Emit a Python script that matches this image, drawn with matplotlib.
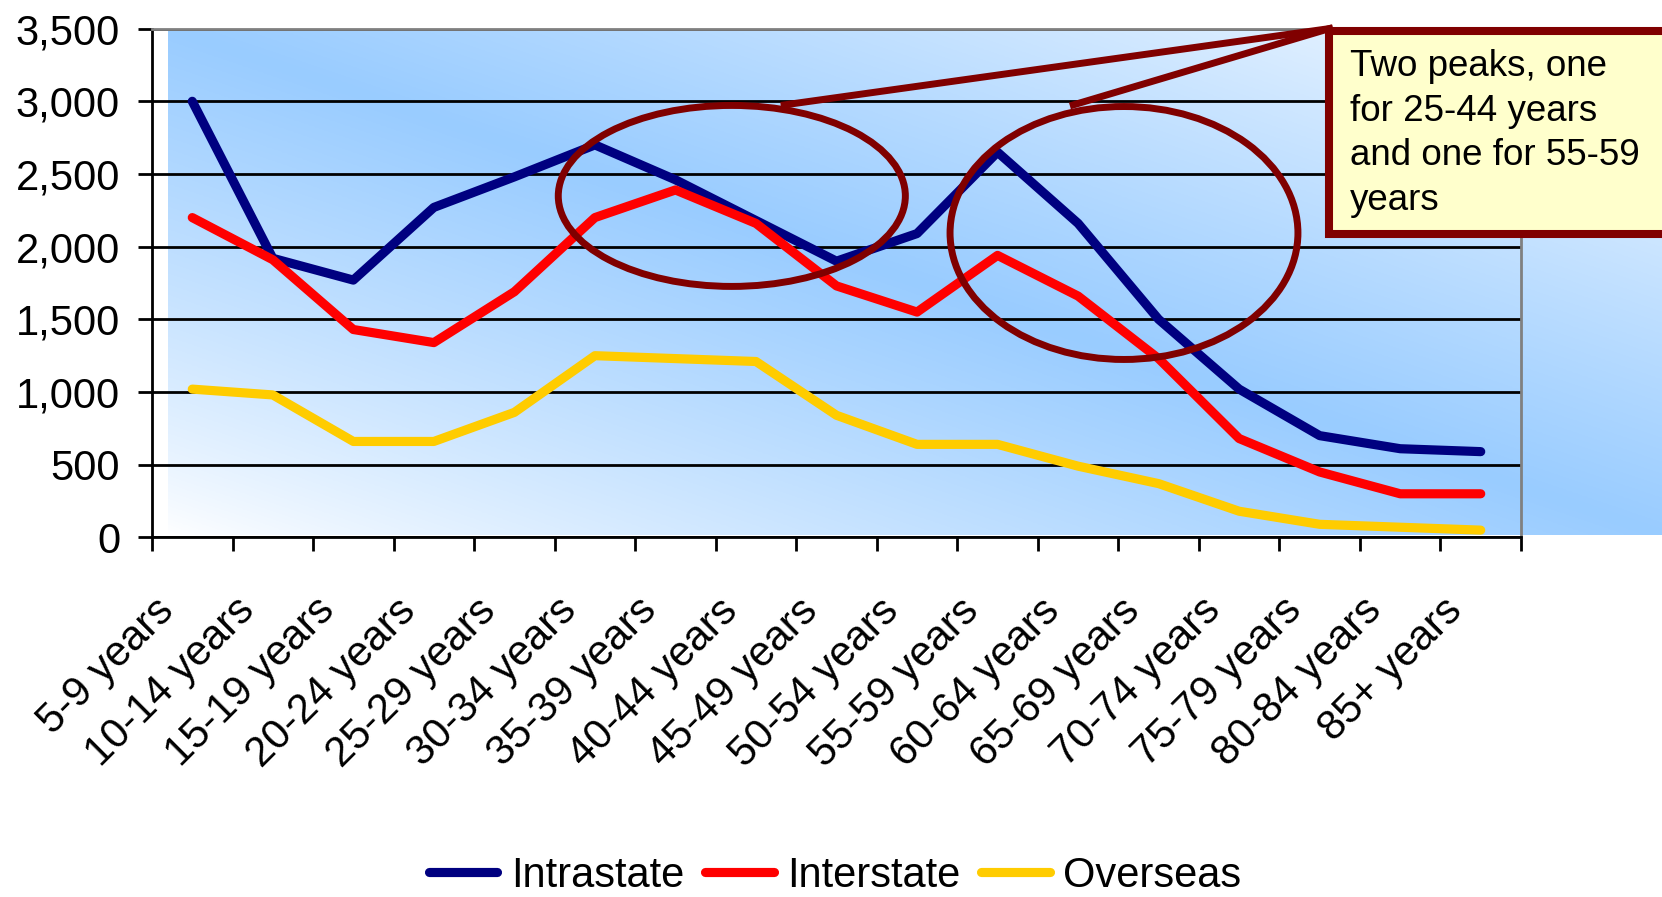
import numpy as np
import matplotlib.pyplot as plt
from matplotlib.patches import Ellipse, Rectangle
from matplotlib.lines import Line2D
from matplotlib.ticker import FuncFormatter

ages = ["5-9 years", "10-14 years", "15-19 years", "20-24 years", "25-29 years",
        "30-34 years", "35-39 years", "40-44 years", "45-49 years", "50-54 years",
        "55-59 years", "60-64 years", "65-69 years", "70-74 years", "75-79 years",
        "80-84 years", "85+ years"]
intrastate = [3000, 1920, 1770, 2270, 2480, 2700, 2460, 2180, 1900, 2090,
              2650, 2160, 1500, 1020, 700, 610, 590]
interstate = [2200, 1910, 1430, 1340, 1690, 2200, 2390, 2160, 1730, 1550,
              1940, 1660, 1230, 680, 450, 300, 300]
overseas = [1020, 980, 660, 660, 860, 1250, 1230, 1210, 840, 640,
            640, 490, 370, 180, 90, 70, 50]

note = "Two peaks, one\nfor 25-44 years\nand one for 55-59\nyears"

plt.rcParams['font.family'] = ['Liberation Sans', 'DejaVu Sans']
FS = 30

W, H = 1662, 897
fig = plt.figure(figsize=(W / 100, H / 100), dpi=100)

# diagonal blue backdrop: pale at bottom-left and top-right, blue through the middle
bg = fig.add_axes([168 / W, 1 - 535 / H, 1 - 168 / W, (535 - 28.6) / H])
gx, gy = np.meshgrid(np.linspace(0, 1, 500), np.linspace(0, 1, 300))
t = (1 - np.abs(gx + gy - 1)) ** 0.8
blue = np.array([153, 204, 255]) / 255
img = (1 - t)[..., None] + t[..., None] * blue
bg.imshow(img, origin='lower', aspect='auto', extent=[0, 1, 0, 1])
bg.axis('off')

ax = fig.add_axes([152 / W, 1 - 537.4 / H, (1521 - 152) / W, (537.4 - 28.6) / H])
ax.patch.set_visible(False)

x = np.arange(len(ages))
lw = 6.6
ax.plot(x, intrastate, color='#000080', lw=lw, solid_capstyle='round', label='Intrastate', zorder=4)
ax.plot(x, interstate, color='#FF0000', lw=lw, solid_capstyle='round', label='Interstate', zorder=4)
ax.plot(x, overseas, color='#FFCC00', lw=lw, solid_capstyle='round', label='Overseas', zorder=4)

ax.set_xlim(-0.5, len(ages) - 0.5)
ax.set_ylim(0, 3500)
ax.set_yticks(np.arange(0, 3501, 500))
ax.yaxis.set_major_formatter(FuncFormatter(lambda v, p: f"{int(v):,}"))
ax.yaxis.grid(True, color='black', lw=2)
ax.tick_params(axis='y', labelsize=FS, length=10, width=2, direction='out', pad=13)

# ticks sit between categories; the slanted names hang below each category
ax.set_xticks(np.arange(-0.5, len(ages)), labels=[])
ax.tick_params(axis='x', length=10, width=2, direction='out')
for i, name in enumerate(ages):
    ax.annotate(name, xy=(x[i], 0), xycoords=('data', 'axes fraction'),
                xytext=(-12, -54), textcoords='offset points', fontsize=FS,
                rotation=45, rotation_mode='anchor', ha='right', va='baseline',
                annotation_clip=False)

for side in ['left', 'bottom']:
    ax.spines[side].set_color('black')
    ax.spines[side].set_linewidth(2)
for side in ['top', 'right']:
    ax.spines[side].set_color('#808080')
    ax.spines[side].set_linewidth(2)

# circles around the two peaks, joined to the note
dark = '#800000'
ax.add_patch(Ellipse((6.70, 2349), 4.31, 1245, fill=False, ec=dark, lw=5, zorder=5, clip_on=False))
ax.add_patch(Ellipse((11.57, 2094), 4.32, 1740, fill=False, ec=dark, lw=5, zorder=5, clip_on=False))
ax.add_line(Line2D([7.35, 14.12], [2975, 3500], color=dark, lw=5, zorder=5, clip_on=False))
ax.add_line(Line2D([10.94, 14.12], [2975, 3500], color=dark, lw=5, zorder=5, clip_on=False))

fig.patches.append(Rectangle((1329 / W, 1 - 234 / H), (1700 - 1329) / W, (234 - 31) / H,
                             transform=fig.transFigure, fc='#FFFFCC', ec=dark, lw=5.8, zorder=6))
fig.text(1350 / W, 1 - 210 / H, note, fontsize=26.5, va='baseline', ha='left',
         linespacing=1.36, zorder=7)

fig.legend(loc='center', bbox_to_anchor=(835 / W, 1 - 876 / H), ncol=3, frameon=False,
           fontsize=FS, handlelength=1.65, handletextpad=0.32, columnspacing=0.5,
           borderpad=0, borderaxespad=0)

fig.savefig('out.png', dpi=100)
